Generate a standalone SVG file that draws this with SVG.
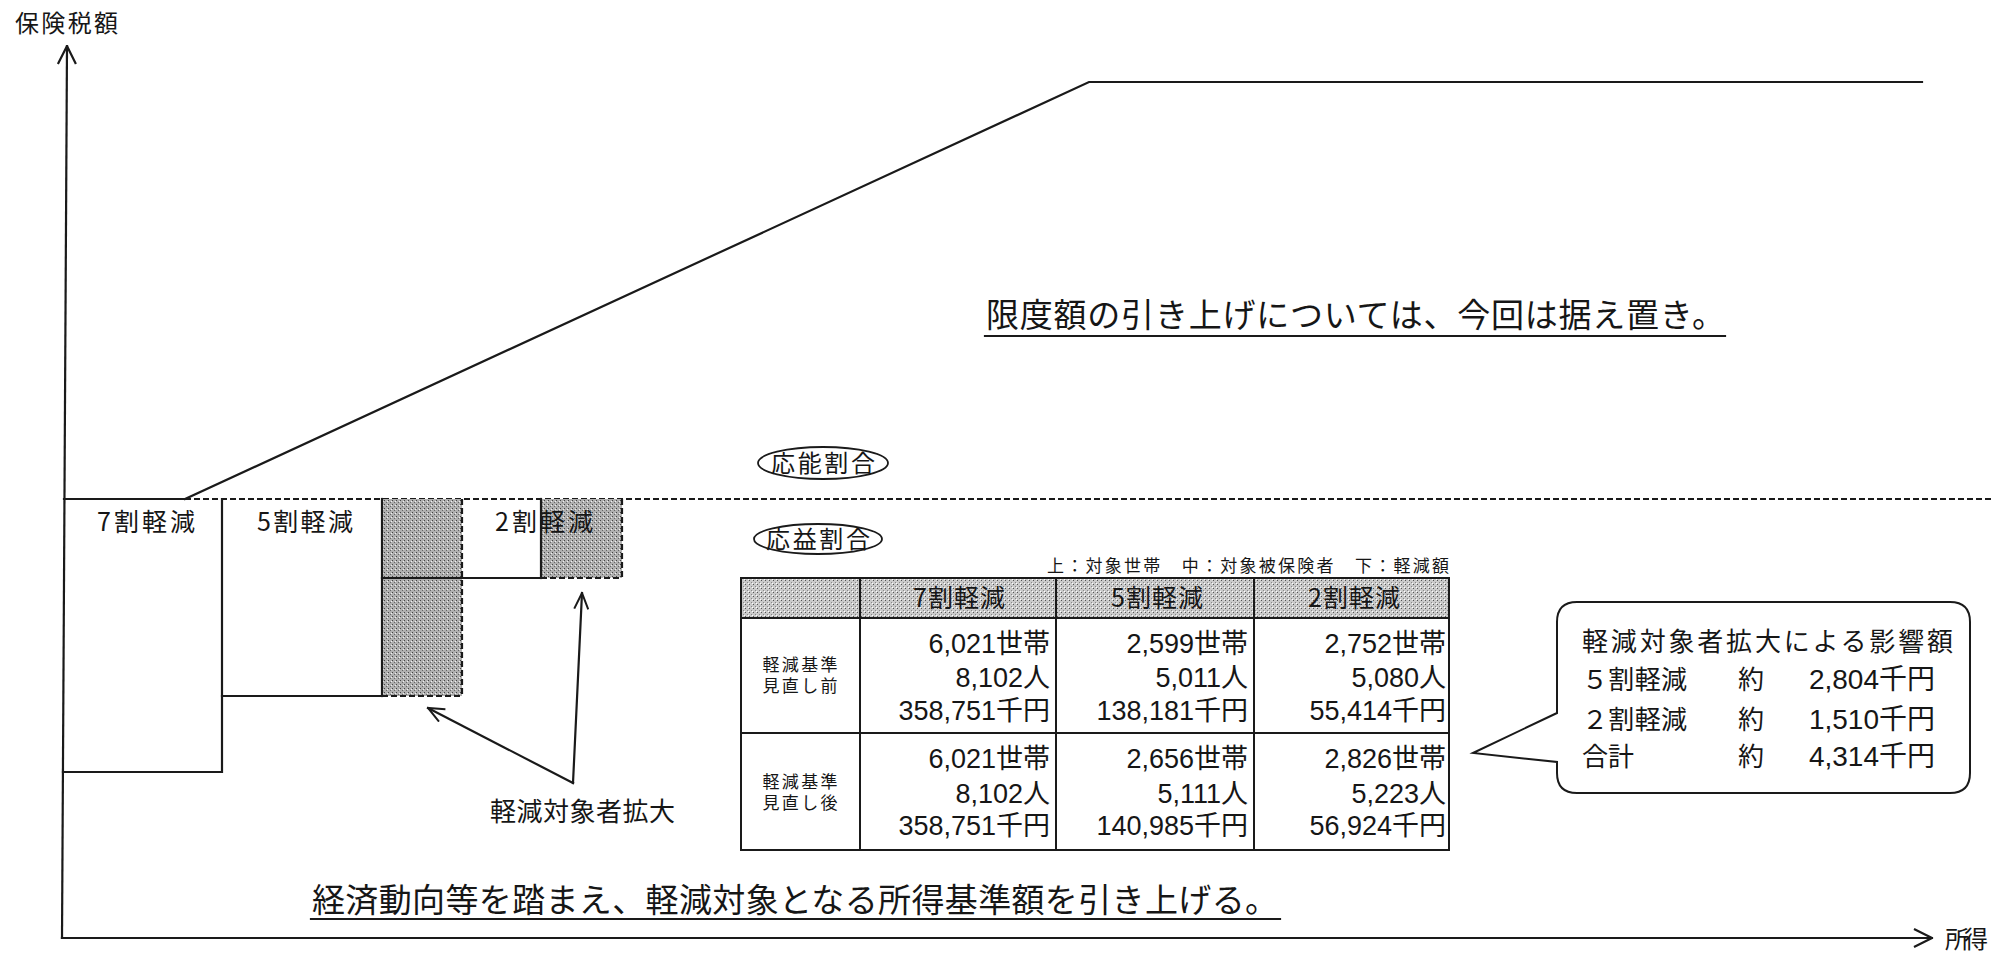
<svg xmlns="http://www.w3.org/2000/svg" width="1998" height="959" viewBox="0 0 1998 959">
<style>
.ln{stroke:#1a1a1a;stroke-width:2.2;fill:none;stroke-linecap:square}
.dash{stroke:#1a1a1a;stroke-width:2.2;fill:none;stroke-dasharray:6 3}
.jp{font-family:"Noto Sans CJK JP","Noto Sans CJK SC",sans-serif;fill:#161616}
.mx{font-family:"Liberation Sans","Noto Sans CJK JP",sans-serif;fill:#161616}
.cell{fill:none;stroke:#1a1a1a;stroke-width:2}
</style>
<defs>
<pattern id="stipDark" width="4" height="4" patternUnits="userSpaceOnUse">
<rect width="4" height="4" fill="#b0b0b0"/>
<rect x="0" y="0" width="1" height="1" fill="#444"/>
<rect x="2" y="2" width="1" height="1" fill="#666"/>
<rect x="3" y="1" width="1" height="1" fill="#f0f0f0"/>
</pattern>
<pattern id="stipLight" width="4" height="4" patternUnits="userSpaceOnUse">
<rect width="4" height="4" fill="#cacaca"/>
<rect x="1" y="0" width="1" height="1" fill="#555"/>
<rect x="3" y="2" width="1" height="1" fill="#888"/>
<rect x="0" y="3" width="1" height="1" fill="#fff"/>
</pattern>
<marker id="arr" viewBox="0 0 18 16" refX="17" refY="8" markerWidth="18" markerHeight="16" markerUnits="userSpaceOnUse" orient="auto">
<path d="M1,1 L17,8 L1,15" fill="none" stroke="#1a1a1a" stroke-width="2"/>
</marker>
<marker id="axarr" viewBox="0 0 20 22" refX="19" refY="11" markerWidth="20" markerHeight="22" markerUnits="userSpaceOnUse" orient="auto">
<path d="M1,2 L19,11 L1,20" fill="none" stroke="#1a1a1a" stroke-width="2.2"/>
</marker>
</defs>

<g id="axes">
<line class="ln" x1="62" y1="938" x2="67" y2="46" marker-end="url(#axarr)"/>
<line class="ln" x1="62" y1="938" x2="1932" y2="938" marker-end="url(#axarr)"/>
<text class="jp" x="15" y="32" font-size="24" textLength="103">保険税額</text>
<text class="jp" x="1945" y="948" font-size="24" textLength="43">所得</text>
</g>

<g id="limit-line">
<polyline class="ln" points="185,499 1089,82 1922,82"/>
<line class="dash" x1="185" y1="499" x2="1992" y2="499"/>
</g>

<g id="step-7">
<polyline class="ln" points="64,499 185,499"/>
<polyline class="ln" points="222,499 222,772 63,772"/>
<text class="jp" x="97" y="531" font-size="25" textLength="98">7割軽減</text>
</g>

<g id="step-5">
<polyline class="ln" points="222,696 382,696"/>
<text class="jp" x="257" y="531" font-size="25" textLength="96">5割軽減</text>
</g>

<g id="shade-5">
<rect x="382" y="499" width="80" height="79" fill="url(#stipDark)"/>
<rect x="382" y="578" width="80" height="118" fill="url(#stipDark)"/>
<line class="ln" x1="382" y1="499" x2="382" y2="696"/>
<line class="dash" x1="462" y1="499" x2="462" y2="696"/>
<line class="dash" x1="382" y1="696" x2="462" y2="696"/>
</g>

<g id="step-2">
<line class="ln" x1="382" y1="578" x2="541" y2="578"/>
</g>

<g id="shade-2">
<rect x="541" y="499" width="81" height="79" fill="url(#stipDark)"/>
<line class="ln" x1="541" y1="499" x2="541" y2="578"/>
<line class="dash" x1="622" y1="499" x2="622" y2="578"/>
<line class="dash" x1="541" y1="578" x2="622" y2="578"/>
<text class="jp" x="495" y="531" font-size="25" textLength="98">2割軽減</text>
</g>

<g id="label-expand">
<text class="jp" x="490" y="821" font-size="26" textLength="185">軽減対象者拡大</text>
</g>

<g id="connectors">
<line class="ln" x1="573" y1="783" x2="582" y2="593" marker-end="url(#arr)"/>
<line class="ln" x1="573" y1="783" x2="428" y2="708" marker-end="url(#arr)"/>
</g>

<g id="note-limit">
<text class="jp" x="986" y="327" font-size="33" textLength="739">限度額の引き上げについては、今回は据え置き。</text>
<line class="ln" x1="985" y1="336" x2="1725" y2="336"/>
</g>

<g id="note-bottom">
<text class="jp" x="312" y="912" font-size="33" textLength="966">経済動向等を踏まえ、軽減対象となる所得基準額を引き上げる。</text>
<line class="ln" x1="311" y1="919" x2="1280" y2="919"/>
</g>

<g id="ability">
<ellipse cx="823" cy="463" rx="65" ry="16" fill="none" stroke="#1a1a1a" stroke-width="1.8"/>
<text class="jp" x="823" y="472" font-size="24" text-anchor="middle" textLength="104">応能割合</text>
</g>

<g id="benefit">
<ellipse cx="818" cy="539" rx="64" ry="15" fill="none" stroke="#1a1a1a" stroke-width="1.8"/>
<text class="jp" x="818" y="548" font-size="24" text-anchor="middle" textLength="104">応益割合</text>
</g>

<g id="table">
<text class="jp" x="1449" y="572" font-size="17" text-anchor="end" textLength="402">上：対象世帯　中：対象被保険者　下：軽減額</text>
<rect x="741" y="578" width="708" height="40" fill="url(#stipLight)"/>
<rect class="cell" x="741" y="578" width="708" height="272"/>
<line class="cell" x1="741" y1="618" x2="1449" y2="618"/>
<line class="cell" x1="741" y1="733" x2="1449" y2="733"/>
<line class="cell" x1="860" y1="578" x2="860" y2="850"/>
<line class="cell" x1="1056" y1="578" x2="1056" y2="850"/>
<line class="cell" x1="1254" y1="578" x2="1254" y2="850"/>
<g class="jp" font-size="25" text-anchor="middle">
<text x="959" y="607" textLength="92">7割軽減</text>
<text x="1157" y="607" textLength="92">5割軽減</text>
<text x="1354" y="607" textLength="92">2割軽減</text>
</g>
<g class="mx" font-size="17" text-anchor="middle">
<text x="800" y="671" textLength="75">軽減基準</text>
<text x="800" y="692" textLength="75">見直し前</text>
<text x="800" y="788" textLength="75">軽減基準</text>
<text x="800" y="809" textLength="75">見直し後</text>
</g>
<g class="mx" font-size="27" text-anchor="end">
<text x="1050" y="653">6,021世帯</text>
<text x="1050" y="687">8,102人</text>
<text x="1050" y="720">358,751千円</text>
<text x="1248" y="653">2,599世帯</text>
<text x="1248" y="687">5,011人</text>
<text x="1248" y="720">138,181千円</text>
<text x="1446" y="653">2,752世帯</text>
<text x="1446" y="687">5,080人</text>
<text x="1446" y="720">55,414千円</text>
<text x="1050" y="768">6,021世帯</text>
<text x="1050" y="803">8,102人</text>
<text x="1050" y="835">358,751千円</text>
<text x="1248" y="768">2,656世帯</text>
<text x="1248" y="803">5,111人</text>
<text x="1248" y="835">140,985千円</text>
<text x="1446" y="768">2,826世帯</text>
<text x="1446" y="803">5,223人</text>
<text x="1446" y="835">56,924千円</text>
</g>
</g>

<g id="callout">
<path d="M1577,602 H1950 Q1970,602 1970,622 V773 Q1970,793 1950,793 H1577 Q1557,793 1557,773 V762 L1473,753 L1557,713 V622 Q1557,602 1577,602 Z" fill="#fff" stroke="#1a1a1a" stroke-width="2"/>
<text class="jp" x="1582" y="651" font-size="26" textLength="371">軽減対象者拡大による影響額</text>
<g class="mx" font-size="26">
<text x="1582" y="689" textLength="105">５割軽減</text>
<text x="1738" y="689">約</text>
<text x="1935" y="689" font-size="28" text-anchor="end">2,804千円</text>
<text x="1582" y="729" textLength="105">２割軽減</text>
<text x="1738" y="729">約</text>
<text x="1935" y="729" font-size="28" text-anchor="end">1,510千円</text>
<text x="1582" y="766">合計</text>
<text x="1738" y="766">約</text>
<text x="1935" y="766" font-size="28" text-anchor="end">4,314千円</text>
</g>
</g>
</svg>
